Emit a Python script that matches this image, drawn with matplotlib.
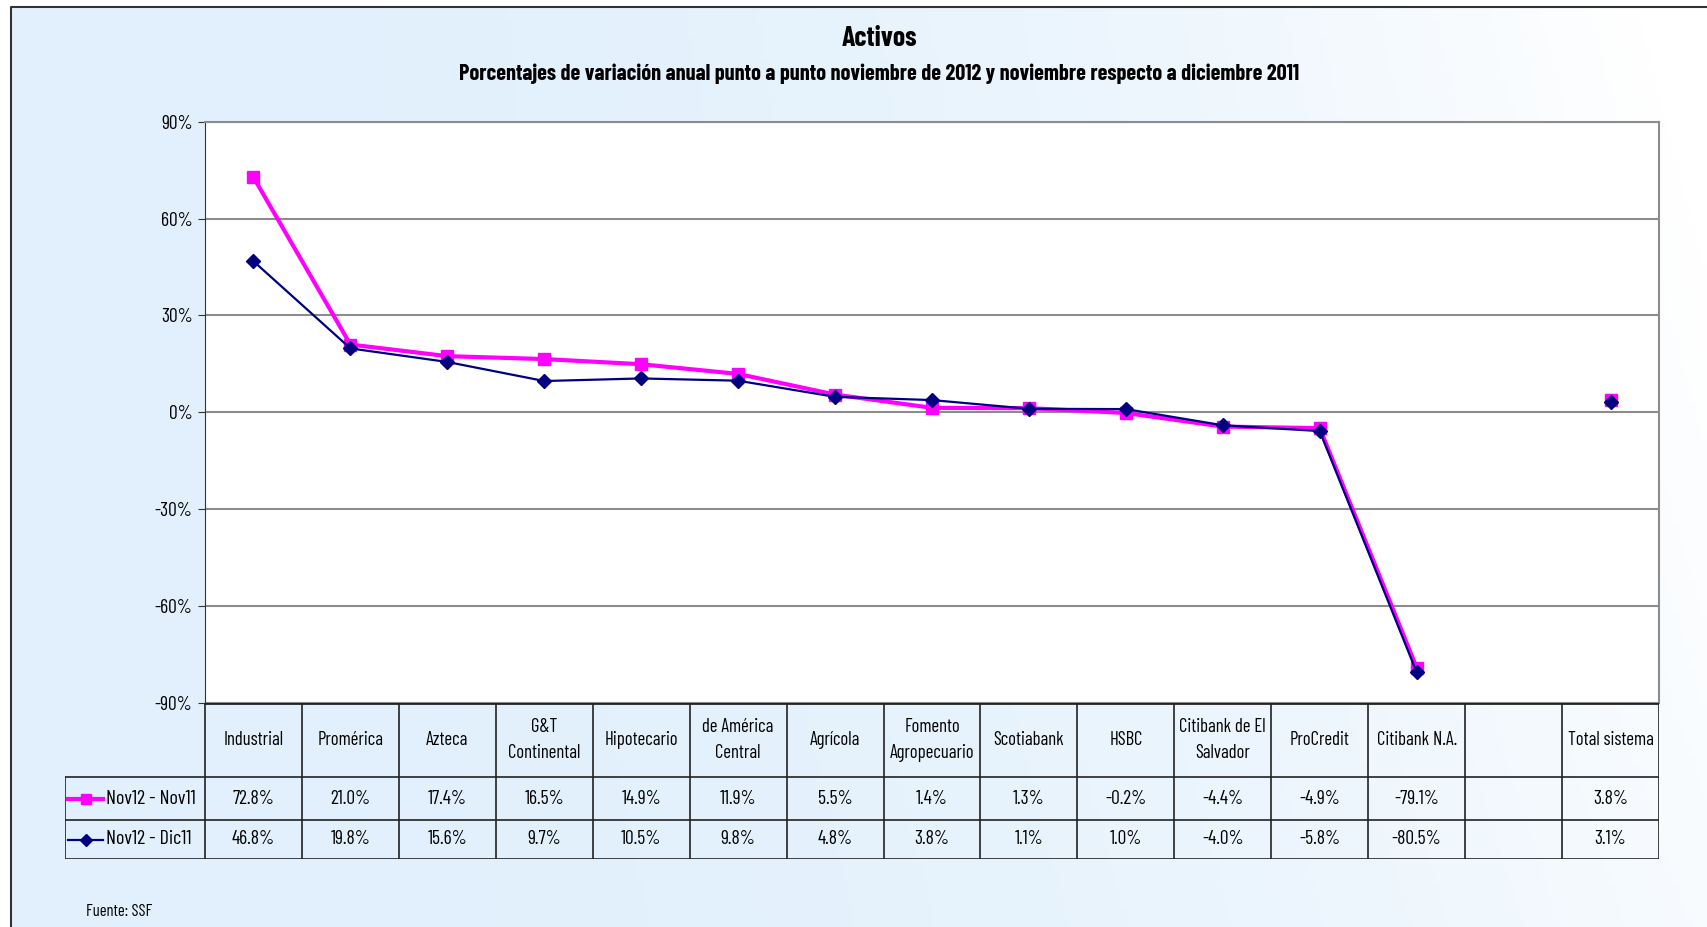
import numpy as np
import matplotlib
matplotlib.use("Agg")
import matplotlib.pyplot as plt
from matplotlib.lines import Line2D
from matplotlib.patches import Rectangle

# Data
categories = ["Industrial", "Promérica", "Azteca", "G&T\nContinental", "Hipotecario",
              "de América\nCentral", "Agrícola", "Fomento\nAgropecuario", "Scotiabank",
              "HSBC", "Citibank de El\nSalvador", "ProCredit", "Citibank N.A.", "",
              "Total sistema"]
nov12_nov11 = [72.8, 21.0, 17.4, 16.5, 14.9, 11.9, 5.5, 1.4, 1.3, -0.2, -4.4, -4.9, -79.1,
               None, 3.8]
nov12_dic11 = [46.8, 19.8, 15.6, 9.7, 10.5, 9.8, 4.8, 3.8, 1.1, 1.0, -4.0, -5.8, -80.5,
               None, 3.1]
series_names = ["Nov12 - Nov11", "Nov12 - Dic11"]
yticks = [90, 60, 30, 0, -30, -60, -90]

plt.rcParams["font.family"] = ["Barlow Condensed", "Liberation Sans", "DejaVu Sans"]

W, H = 1707, 927
fig = plt.figure(figsize=(W / 100, H / 100), dpi=100)


def fbox(x0, y0, x1, y1):
    # pixel box (top-left origin) -> figure fraction rect
    return [x0 / W, 1 - y1 / H, (x1 - x0) / W, (y1 - y0) / H]


# background gradient
bg = fig.add_axes([0, 0, 1, 1], zorder=-10)
gx = np.linspace(0, 1, 300)
gy = np.linspace(0, 1, 200)
GX, GY = np.meshgrid(gx, gy)
t = np.clip(0.75 * GX ** 2.5 + 0.35 * (1 - GY) * GX ** 2, 0, 1)
c0 = np.array([225, 240, 252]) / 255
c1 = np.array([255, 255, 255]) / 255
img = c0[None, None, :] * (1 - t[..., None]) + c1[None, None, :] * t[..., None]
bg.imshow(img, extent=[0, W, H, 0], aspect="auto")
bg.add_patch(Rectangle((0, 0), 11, H, color="white", zorder=2))
bg.add_patch(Rectangle((0, 0), W, 7, color="white", zorder=2))
bg.plot([11, 11, W], [H, 7, 7], color="#333333", lw=1.5, zorder=3)
bg.set_xlim(0, W)
bg.set_ylim(H, 0)
bg.axis("off")

# titles
fig.text(879 / W, 1 - 38 / H, "Activos", ha="center", va="center",
         fontsize=20, fontweight="bold")
fig.text(879 / W, 1 - 74 / H,
         "Porcentajes de variación anual punto a punto noviembre de 2012 y noviembre respecto a diciembre 2011",
         ha="center", va="center", fontsize=16, fontweight="bold")
fig.text(86 / W, 1 - 911 / H, "Fuente: SSF", ha="left", va="center", fontsize=12)

# main plot
x0p, x1p, y0p, y1p = 205, 1659, 121.7, 703
ax = fig.add_axes(fbox(x0p, y0p, x1p, y1p))
ax.set_facecolor("white")
n = len(categories)
x = np.arange(n)
y1 = np.array([np.nan if v is None else v for v in nov12_nov11])
y2 = np.array([np.nan if v is None else v for v in nov12_dic11])
ax.plot(x, y1, color="#FF00FF", lw=3, marker="s", ms=8, zorder=3)
ax.plot(x, y2, color="#000080", lw=1.6, marker="D", ms=7, zorder=4)
ax.set_xlim(-0.5, n - 0.5)
ax.set_ylim(-90, 90)
ax.set_yticks(yticks)
ax.set_yticklabels([f"{v}%" for v in yticks], fontsize=14)
ax.set_xticks([])
ax.yaxis.grid(True, color="#8C8C8C", lw=1.5)
ax.set_axisbelow(True)
ax.tick_params(axis="y", direction="out", length=5, color="#333333", pad=4)
for s in ["top", "right"]:
    ax.spines[s].set_color("#8C8C8C")
    ax.spines[s].set_linewidth(1.5)
ax.spines["left"].set_color("#333333")
ax.spines["bottom"].set_visible(False)

# data table below
colw = (x1p - x0p) / n
tx0, ty0, ty1 = 65, 703, 859
r1, r2 = 777, 820
tax = fig.add_axes(fbox(tx0, ty0, x1p, ty1))
tax.set_xlim(-0.5 - (x0p - tx0) / colw, n - 0.5)
tax.set_ylim(ty1, ty0)
tax.axis("off")
lc, lw = "#222222", 1.2
xl = -0.5 - (x0p - tx0) / colw
tax.plot([-0.5, n - 0.5], [ty0, ty0], color=lc, lw=2)
for yy in [r1, r2, ty1]:
    tax.plot([xl, n - 0.5], [yy, yy], color=lc, lw=lw)
for i in range(n + 1):
    tax.plot([i - 0.5, i - 0.5], [ty0, ty1], color=lc, lw=lw)
tax.plot([xl, xl], [r1, ty1], color=lc, lw=lw)

for i, c in enumerate(categories):
    tax.text(i, (ty0 + r1) / 2, c, ha="center", va="center", fontsize=13.5,
             linespacing=1.55)
for vals, yc in [(nov12_nov11, (r1 + r2) / 2), (nov12_dic11, (r2 + ty1) / 2)]:
    for i, v in enumerate(vals):
        if v is not None:
            tax.text(i, yc, f"{v:.1f}%", ha="center", va="center", fontsize=14)

# legend keys in table
kx0 = xl + 3 / colw
kx1 = xl + 38 / colw
tax.add_line(Line2D([kx0, kx1], [(r1 + r2) / 2] * 2, color="#FF00FF", lw=3))
tax.plot([(kx0 + kx1) / 2], [(r1 + r2) / 2], marker="s", color="#FF00FF", ms=7)
tax.add_line(Line2D([kx0, kx1], [(r2 + ty1) / 2] * 2, color="#000080", lw=1.6))
tax.plot([(kx0 + kx1) / 2], [(r2 + ty1) / 2], marker="D", color="#000080", ms=6)
tax.text(xl + 41 / colw, (r1 + r2) / 2, series_names[0], ha="left", va="center", fontsize=14.5)
tax.text(xl + 41 / colw, (r2 + ty1) / 2, series_names[1], ha="left", va="center", fontsize=14.5)

fig.savefig("out.png", dpi=100)
